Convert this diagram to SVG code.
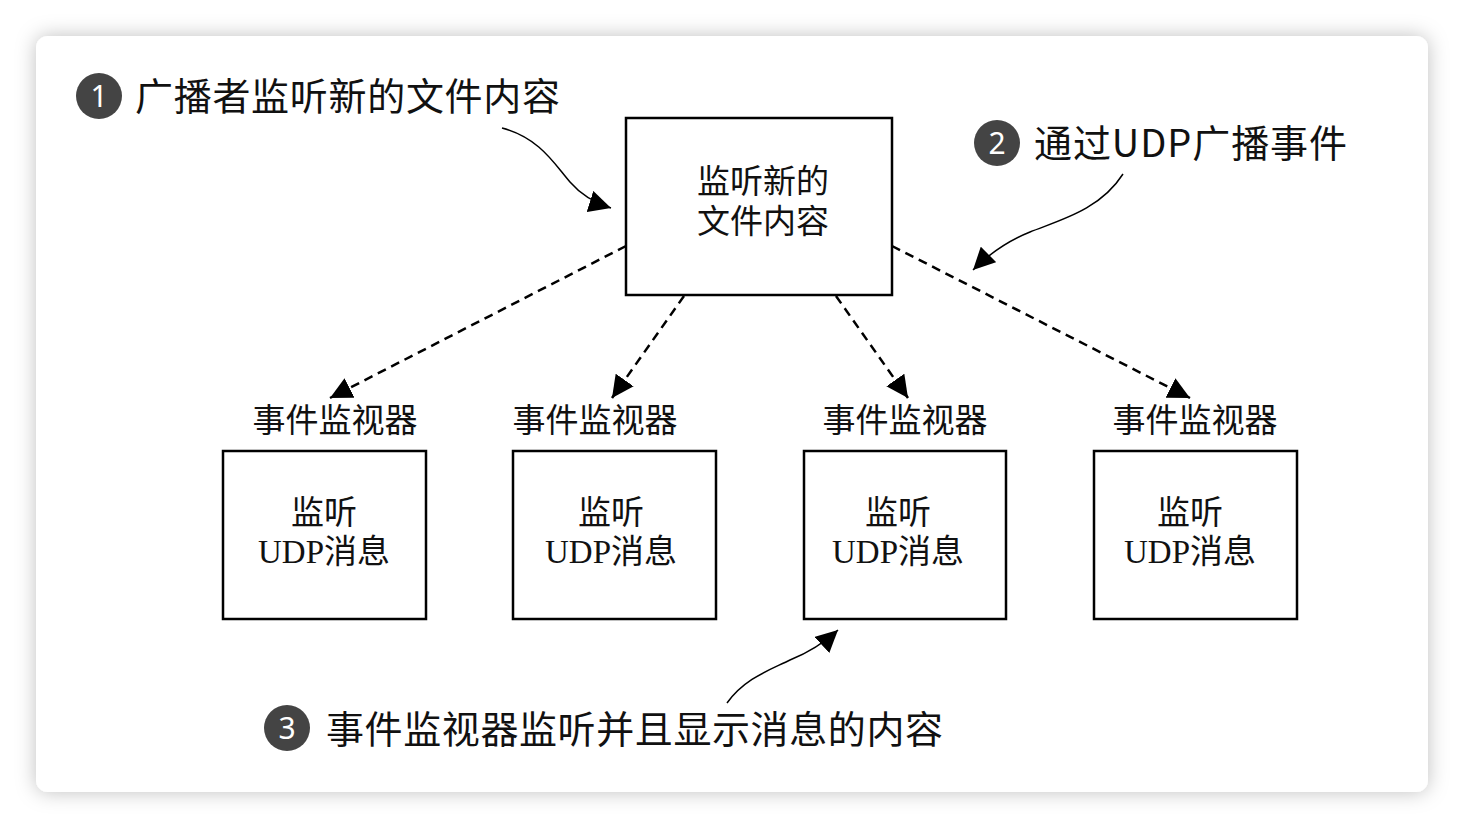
<svg xmlns="http://www.w3.org/2000/svg" width="1464" height="828" viewBox="0 0 1464 828">
<defs>
<filter id="sh" x="-5%" y="-5%" width="110%" height="110%">
<feDropShadow dx="0" dy="0" stdDeviation="10" flood-color="#000" flood-opacity="0.25"/>
</filter>
<marker id="ah" viewBox="0 0 10 10" refX="10" refY="5" markerWidth="22" markerHeight="22" markerUnits="userSpaceOnUse" orient="auto">
<path d="M0,0 L10,5 L0,10 z" fill="#000"/>
</marker>
<style>
.box{fill:#fff;stroke:#000;stroke-width:2.5}
.bt{font-family:"Liberation Serif","Noto Sans CJK SC",serif;font-size:33px;fill:#111;text-anchor:middle}
.ann{font-family:"Noto Sans CJK SC",sans-serif;font-size:38px;fill:#111}
.num{font-family:"Noto Sans","Noto Sans CJK SC",sans-serif;font-size:30px;fill:#fff;text-anchor:middle}
.dash{fill:none;stroke:#000;stroke-width:2.5;stroke-dasharray:9 6;marker-end:url(#ah)}
.cur{fill:none;stroke:#000;stroke-width:1.5;marker-end:url(#ah)}
</style>
</defs>
<rect width="1464" height="828" fill="#fff"/>
<rect x="36" y="36" width="1392" height="756" rx="12" fill="#fff" filter="url(#sh)"/>

<g id="ann1">
<circle cx="99" cy="96" r="23" fill="#444"/>
<text class="num" x="99" y="107">1</text>
<text class="ann" x="135" y="110" textLength="425" lengthAdjust="spacing">广播者监听新的文件内容</text>
</g>
<g id="ann2">
<circle cx="997" cy="143" r="23" fill="#444"/>
<text class="num" x="997" y="154">2</text>
<text class="ann" x="1034" y="157" textLength="313" lengthAdjust="spacing">通过UDP广播事件</text>
</g>
<g id="ann3">
<circle cx="287" cy="728" r="23" fill="#444"/>
<text class="num" x="287" y="739">3</text>
<text class="ann" x="326" y="743" textLength="617" lengthAdjust="spacing">事件监视器监听并且显示消息的内容</text>
</g>

<g id="main">
<rect class="box" x="626" y="118" width="266" height="177"/>
<text class="bt" x="763" y="193">监听新的</text>
<text class="bt" x="763" y="233">文件内容</text>
</g>

<g id="m1">
<text class="bt" x="335" y="432">事件监视器</text>
<rect class="box" x="223" y="451" width="203" height="168"/>
<text class="bt" x="324" y="524">监听</text>
<text class="bt" x="324" y="563">UDP消息</text>
</g>
<g id="m2">
<text class="bt" x="595" y="432">事件监视器</text>
<rect class="box" x="513" y="451" width="203" height="168"/>
<text class="bt" x="611" y="524">监听</text>
<text class="bt" x="611" y="563">UDP消息</text>
</g>
<g id="m3">
<text class="bt" x="905" y="432">事件监视器</text>
<rect class="box" x="804" y="451" width="202" height="168"/>
<text class="bt" x="898" y="524">监听</text>
<text class="bt" x="898" y="563">UDP消息</text>
</g>
<g id="m4">
<text class="bt" x="1195" y="432">事件监视器</text>
<rect class="box" x="1094" y="451" width="203" height="168"/>
<text class="bt" x="1190" y="524">监听</text>
<text class="bt" x="1190" y="563">UDP消息</text>
</g>

<g id="connectors">
<path class="dash" d="M626,246 L330,398"/>
<path class="dash" d="M684,296 L612,398"/>
<path class="dash" d="M836,296 L908,398"/>
<path class="dash" d="M892,246 L1190,398"/>
<path class="cur" d="M502,128 C540,138 555,165 570,182 C582,196 595,203 611,208"/>
<path class="cur" d="M1123,174 C1100,210 1060,220 1030,232 C1005,242 988,255 973,270"/>
<path class="cur" d="M727,703 C745,678 770,670 790,660 C810,652 825,642 838,630"/>
</g>
</svg>
